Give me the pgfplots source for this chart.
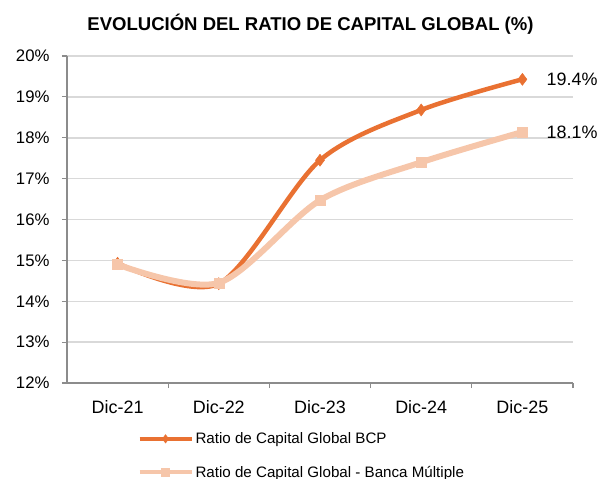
\documentclass[border=0pt]{standalone}
\usepackage{fontspec}
\setmainfont{Liberation Sans}
\usepackage{pgfplots}
\pgfplotsset{compat=1.18}
\definecolor{bcp}{HTML}{E97132}
\definecolor{bm}{HTML}{F6C6AA}
\definecolor{gridc}{HTML}{D9D9D9}
\definecolor{axc}{HTML}{8C8C8C}
\begin{document}
\begin{tikzpicture}
\useasboundingbox (-67bp,-96bp) rectangle (534bp,383bp);
\begin{axis}[
  scale only axis, width=506bp, height=327bp,
  xmin=-0.5, xmax=4.5, ymin=12, ymax=20,
  clip=false,
  axis lines*=left,
  axis line style={axc, line width=1.5bp},
  xtick={0,1,2,3,4},
  xticklabels={Dic-21,Dic-22,Dic-23,Dic-24,Dic-25},
  minor xtick={0.5,1.5,2.5,3.5,4.5},
  ytick={12,13,...,20},
  yticklabel={\pgfmathprintnumber{\tick}\%},
  /pgf/number format/assume math mode=true,
  ymajorgrids, xmajorgrids=false, xminorgrids=false,
  grid style={gridc, line width=1.5bp},
  tick align=outside,
  major tick length=5bp, minor tick length=5bp,
  tick style={axc, line width=1.2bp},
  major x tick style={draw=none},
  y tick label style={font=\fontsize{16.8}{20}\selectfont, xshift=-9bp},
  x tick label style={font=\fontsize{18}{20}\selectfont, yshift=-9bp},
  legend style={at={(0.139,-0.145)}, anchor=north west, draw=none, fill=none,
    font=\fontsize{15.2}{18}\selectfont, legend cell align=left, row sep=17bp,
    inner sep=0pt},
  legend image code/.code={\draw[mark repeat=2,mark phase=2, mark size=4.2bp, line width=4bp] plot coordinates {(0bp,0bp)(26bp,0bp)(52bp,0bp)};},
]
\addplot[bcp, line width=4.5bp, smooth, tension=0.5, mark=diamond*, mark size=6bp, mark options={line width=0.5bp}]
  coordinates {(0,14.93)(1,14.43)(2,17.45)(3,18.68)(4,19.43)};
\addlegendentry{Ratio de Capital Global BCP}
\addplot[bm, line width=6bp, smooth, tension=0.5, mark=square*, mark size=5bp, mark options={line width=0.5bp}]
  coordinates {(0,14.9)(1,14.45)(2,16.47)(3,17.4)(4,18.14)};
\addlegendentry{Ratio de Capital Global - Banca Múltiple}
\node[anchor=west, font=\fontsize{18}{20}\selectfont, inner sep=0pt, xshift=24bp] at (axis cs:4,19.43) {19.4\%};
\node[anchor=west, font=\fontsize{18}{20}\selectfont, inner sep=0pt, xshift=24bp] at (axis cs:4,18.14) {18.1\%};
\end{axis}
\node[font=\bfseries\fontsize{18.6}{20}\selectfont] at (243.5bp,359bp) {EVOLUCIÓN DEL RATIO DE CAPITAL GLOBAL (\%)};
\end{tikzpicture}
\end{document}
